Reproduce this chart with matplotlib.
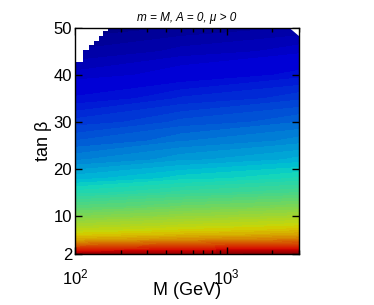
import numpy as np
import matplotlib
matplotlib.use("Agg")
import matplotlib.pyplot as plt
from matplotlib.colors import ListedColormap
from matplotlib.ticker import FixedLocator, LogLocator, NullFormatter

plt.rcParams['font.family'] = ['Liberation Sans', 'DejaVu Sans']

# grid of the scan
M_cols = [100, 500, 3000]
tanb_rows = [2, 3, 4, 5, 6, 7, 8, 10, 12, 15, 18, 22, 26, 30, 35, 40, 45, 50]
# normalized colour quantity (0 = dark blue, 1 = dark red) at each M column
val_M100 = [0.94, 0.85, 0.77, 0.70, 0.655, 0.62, 0.59, 0.53, 0.475, 0.40, 0.34,
            0.28, 0.235, 0.195, 0.145, 0.10, 0.065, 0.035]
val_M500 = [0.95, 0.875, 0.80, 0.73, 0.68, 0.645, 0.615, 0.56, 0.505, 0.43, 0.37,
            0.31, 0.265, 0.225, 0.175, 0.125, 0.085, 0.05]
val_M3000 = [0.96, 0.89, 0.82, 0.755, 0.705, 0.67, 0.64, 0.585, 0.53, 0.455, 0.395,
             0.335, 0.29, 0.25, 0.20, 0.15, 0.105, 0.065]

# excluded region (no solution), upper-left staircase and upper-right corner
excl_M_left = [100, 113.7, 123.6, 133.4, 142.9, 152.9, 164.9]
excl_tanb_left = [42.7, 45.3, 46.4, 47.3, 48.2, 49.4, 50]
excl_M_right = [2600, 3000]
excl_tanb_right = [50, 48.3]

jet = plt.get_cmap('jet')(np.linspace(0, 1, 64))
jet[:, :3] = jet[:, :3] * 0.84
cmap = ListedColormap(jet)

fig = plt.figure(figsize=(3.74, 3.05), dpi=100)
ax = fig.add_axes([75/374, 51/305, 224/374, 226/305])

Z = np.column_stack([val_M100, val_M500, val_M3000])
ax.contourf(M_cols, tanb_rows, Z, levels=np.linspace(0, 1, 65), cmap=cmap,
            vmin=0, vmax=1)

ax.fill_between(excl_M_left, excl_tanb_left, 50, step='post',
                color='white', lw=0, zorder=3)
ax.fill_between(excl_M_right, excl_tanb_right, 50,
                color='white', lw=0, zorder=3)

ax.set_xscale('log')
ax.set_xlim(100, 3000)
ax.set_ylim(2, 50)

ax.yaxis.set_major_locator(FixedLocator([2, 10, 20, 30, 40, 50]))
ax.xaxis.set_major_locator(FixedLocator([100, 1000]))
ax.xaxis.set_minor_locator(LogLocator(base=10, subs=np.arange(2, 10)))
ax.xaxis.set_minor_formatter(NullFormatter())
ax.set_xticklabels([r'$\mathregular{10^2}$', r'$\mathregular{10^3}$'])

ax.tick_params(which='both', direction='in', top=True, right=True,
               labelsize=12, width=1, colors='black')
ax.tick_params(which='major', length=5)
ax.tick_params(which='minor', length=3)
ax.tick_params(axis='x', pad=10)
ax.tick_params(axis='y', pad=2)
for s in ax.spines.values():
    s.set_linewidth(1.0)
    s.set_zorder(5)

ax.set_xlabel('M (GeV)', fontsize=13, labelpad=-4)
ax.set_ylabel(r'tan $\mathregular{\beta}$', fontsize=13, labelpad=0)
ax.set_title('m = M, A = 0, \u03bc > 0', fontsize=8.5, fontstyle='italic', pad=5)

fig.savefig('out.png', dpi=100)
